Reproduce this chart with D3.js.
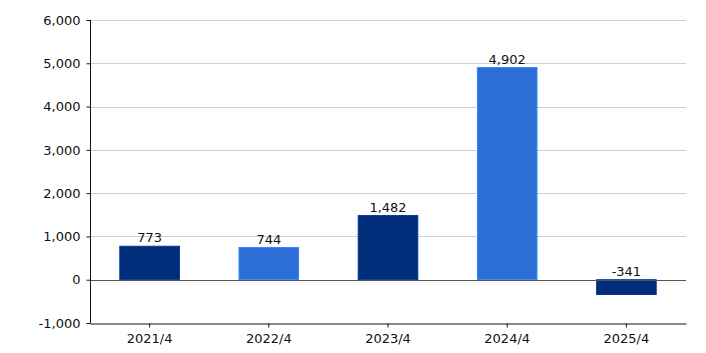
<!DOCTYPE html>
<html>
<head>
<meta charset="utf-8">
<script src="https://cdn.jsdelivr.net/npm/d3@7"></script>
<style>
  body { margin: 0; background: #fff; }
  text { font-family: "DejaVu Sans", Verdana, sans-serif; }
</style>
</head>
<body>
<div id="chart"></div>
<script>
const categories = ["2021/4", "2022/4", "2023/4", "2024/4", "2025/4"];
const values = [773, 744, 1482, 4902, -341];
const barColors = ["#002D7A", "#2B6ED6", "#002D7A", "#2B6ED6", "#002D7A"];
const yTicks = [-1000, 0, 1000, 2000, 3000, 4000, 5000, 6000];

const margin = { top: 20, right: 20, bottom: 30, left: 90 };
const width = 706 - margin.left - margin.right;
const height = 353 - margin.top - margin.bottom;

const svg = d3.select("#chart")
  .append("svg")
  .attr("width", 706)
  .attr("height", 353)
  .append("g")
  .attr("transform", `translate(${margin.left},${margin.top})`);

const x = d3.scaleBand()
  .domain(categories)
  .range([0, width])
  .paddingInner(0.5)
  .paddingOuter(0.25);

const y = d3.scaleLinear()
  .domain([-1000, 6000])
  .range([height, 0]);

// Gridlines
svg.append("g")
  .selectAll("line")
  .data(yTicks.filter(d => d !== 0 && d !== -1000))
  .enter().append("line")
  .attr("x1", 0)
  .attr("x2", width)
  .attr("y1", d => Math.round(y(d)) + 0.5)
  .attr("y2", d => Math.round(y(d)) + 0.5)
  .attr("stroke", "#d0d0d0");

// Bars
const data = categories.map((c, i) => ({ c, v: values[i], color: barColors[i] }));
svg.selectAll("rect.bar")
  .data(data)
  .enter().append("rect")
  .attr("class", "bar")
  .attr("x", d => x(d.c))
  .attr("y", d => y(Math.max(0, d.v)))
  .attr("width", x.bandwidth())
  .attr("height", d => Math.abs(y(d.v) - y(0)))
  .attr("fill", d => d.color)
  .attr("stroke", d => d3.color(d.color).brighter(0.6))
  .attr("stroke-width", 1);

// Zero line
svg.append("line")
  .attr("x1", 0)
  .attr("x2", width)
  .attr("y1", Math.round(y(0)) + 0.5)
  .attr("y2", Math.round(y(0)) + 0.5)
  .attr("stroke", "#555");

// Value labels
svg.selectAll("text.val")
  .data(data)
  .enter().append("text")
  .attr("class", "val")
  .attr("x", d => x(d.c) + x.bandwidth() / 2)
  .attr("y", d => y(Math.max(0, d.v)) - 4)
  .attr("text-anchor", "middle")
  .style("font-size", "13px")
  .attr("fill", "#111")
  .text(d => d3.format(",")(d.v).replace("−", "-"));

// Y axis
const yAxis = svg.append("g")
  .attr("transform", "translate(0.5,0)")
  .call(d3.axisLeft(y).tickValues(yTicks).tickSize(4).tickFormat(d => d3.format(",")(d).replace("−", "-")));
yAxis.select(".domain").attr("stroke", "#111").attr("d", `M0,${y(6000)}V${height}`);
yAxis.selectAll(".tick line").attr("stroke", "#111");
yAxis.selectAll("text")
  .attr("x", -10)
  .style("font-size", "13px")
  .style("font-family", "'DejaVu Sans', Verdana, sans-serif")
  .attr("fill", "#111");

// X axis
const xAxis = svg.append("g")
  .attr("transform", `translate(0,${Math.round(height) + 0.5})`)
  .call(d3.axisBottom(x).tickSize(4).tickSizeOuter(0));
xAxis.select(".domain").attr("stroke", "#111");
xAxis.selectAll(".tick line").attr("stroke", "#111");
xAxis.selectAll("text")
  .attr("dy", "0.95em")
  .style("font-size", "13px")
  .style("font-family", "'DejaVu Sans', Verdana, sans-serif")
  .attr("fill", "#111");
</script>
</body>
</html>
